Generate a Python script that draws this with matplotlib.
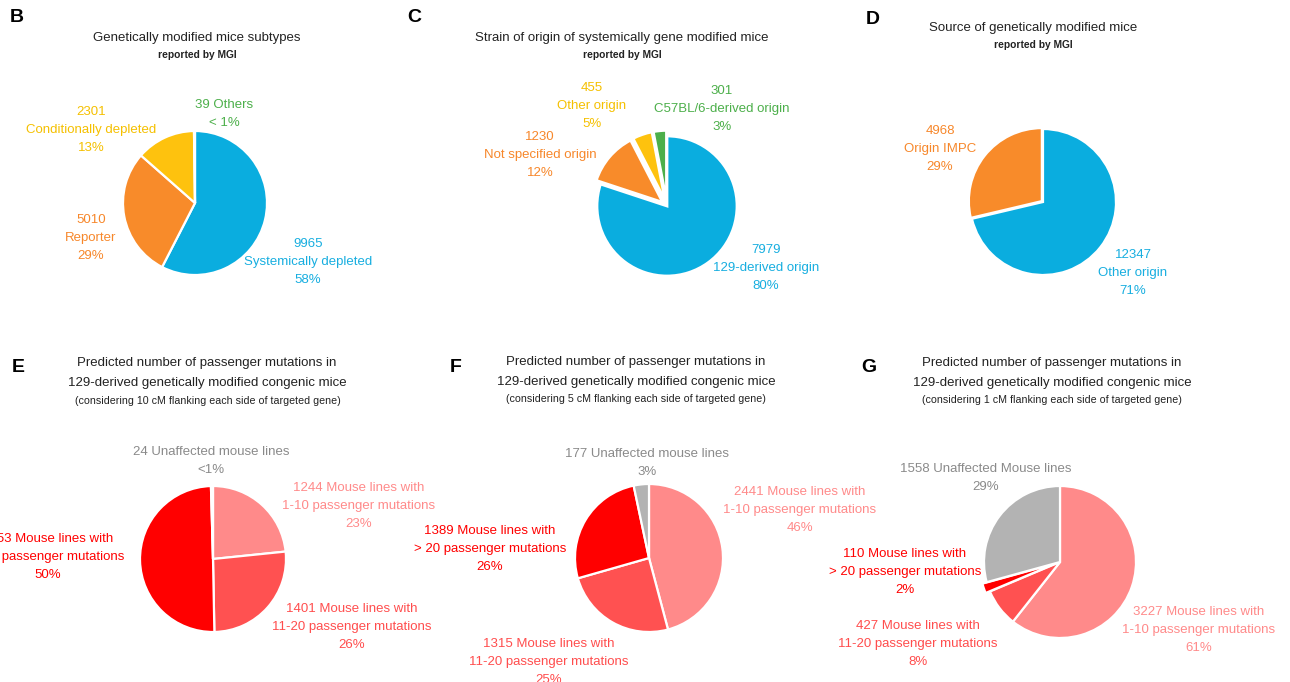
import matplotlib
matplotlib.use("Agg")
import matplotlib.pyplot as plt

W, H = 1290, 682
plt.rcParams['font.family'] = ['Liberation Sans', 'DejaVu Sans']

# ---------------- data ----------------
b_names = ["Systemically depleted", "Reporter", "Conditionally depleted", "Others"]
b_values = [9965, 5010, 2301, 39]
b_pcts = ["58%", "29%", "13%", "< 1%"]

c_names = ["129-derived origin", "Not specified origin", "Other origin", "C57BL/6-derived origin"]
c_values = [7979, 1230, 455, 301]
c_pcts = ["80%", "12%", "5%", "3%"]

d_names = ["Other origin", "Origin IMPC"]
d_values = [12347, 4968]
d_pcts = ["71%", "29%"]

e_names = ["1-10 passenger mutations", "11-20 passenger mutations", "> 20 passenger mutations", "Unaffected mouse lines"]
e_values = [1244, 1401, 2653, 24]
e_pcts = ["23%", "26%", "50%", "<1%"]

f_names = ["1-10 passenger mutations", "11-20 passenger mutations", "> 20 passenger mutations", "Unaffected mouse lines"]
f_values = [2441, 1315, 1389, 177]
f_pcts = ["46%", "25%", "26%", "3%"]

g_names = ["1-10 passenger mutations", "11-20 passenger mutations", "> 20 passenger mutations", "Unaffected Mouse lines"]
g_values = [3227, 427, 110, 1558]
g_pcts = ["61%", "8%", "2%", "29%"]

# ---------------- styles ----------------
BLUE, ORANGE, YELLOW, GREEN = "#0aaddf", "#f88b2a", "#fec20e", "#4caf4a"
PINK, MRED, RED, GRAY = "#ff8a8a", "#ff5151", "#ff0000", "#b3b3b3"
T_BLUE, T_ORANGE, T_YELLOW, T_GREEN = "#17aee0", "#f7872a", "#f5c000", "#4caf4a"
T_PINK, T_MRED, T_RED, T_GRAY = "#ff8a8a", "#ff4d4d", "#ff0000", "#8a8a8a"

fig = plt.figure(figsize=(W / 100, H / 100), dpi=100)
fig.patch.set_facecolor("white")

LBL = 9.5
TTL = 9.5
SUB = 7.4
SUB3 = 7.7
LS = 1.65


def ftext(x, y, s, size=LBL, color="black", weight="normal", ha="center", ls=LS, **kw):
    fig.text(x / W, 1 - y / H, s, fontsize=size, color=color, weight=weight,
             ha=ha, va="center", linespacing=ls, **kw)


def pie(cx, cy, r, values, colors, explode=None, lw=1.6):
    ax = fig.add_axes([(cx - r) / W, 1 - (cy + r) / H, 2 * r / W, 2 * r / H])
    wedges, _ = ax.pie(values, colors=colors, startangle=90, counterclock=False,
                       explode=explode, radius=1,
                       wedgeprops=dict(edgecolor="white", linewidth=lw))
    for w in wedges:
        w.set_clip_on(False)
    ax.set_xlim(-1, 1)
    ax.set_ylim(-1, 1)
    ax.set_aspect("equal")
    ax.axis("off")
    return ax


# panel letters
for L, x, y in [("B", 10, 18), ("C", 407, 18), ("D", 866, 20),
                ("E", 12, 368), ("F", 450, 367), ("G", 861, 368)]:
    fig.text(x / W, 1 - y / H, L, fontsize=14, weight="bold", ha="left", va="center")

# ---------------- B ----------------
ftext(197, 38, "Genetically modified mice subtypes", size=TTL, color="#222222")
ftext(197, 55, "reported by MGI", size=SUB, color="#222222", weight="bold")
pie(195, 203, 72, b_values, [BLUE, ORANGE, YELLOW, GREEN])
ftext(308, 262, f"{b_values[0]}\n{b_names[0]}\n{b_pcts[0]}", color=T_BLUE)
ftext(91, 130, f"{b_values[2]}\n{b_names[2]}\n{b_pcts[2]}", color=T_YELLOW)
ftext(91, 238, f"{b_values[1]}\n{b_names[1]}\n{b_pcts[1]}", color=T_ORANGE)
ftext(224, 114, f"{b_values[3]} {b_names[3]}\n{b_pcts[3]}", color=T_GREEN)

# ---------------- C ----------------
ftext(622, 38, "Strain of origin of systemically gene modified mice", size=TTL, color="#222222")
ftext(622, 55, "reported by MGI", size=SUB, color="#222222", weight="bold")
pie(667, 206, 70, c_values, [BLUE, ORANGE, YELLOW, GREEN], explode=[0, 0.08, 0.08, 0.08], lw=2)
ftext(766, 268, f"{c_values[0]}\n{c_names[0]}\n{c_pcts[0]}", color=T_BLUE)
ftext(540, 155, f"{c_values[1]}\n{c_names[1]}\n{c_pcts[1]}", color=T_ORANGE)
ftext(592, 106, f"{c_values[2]}\n{c_names[2]}\n{c_pcts[2]}", color=T_YELLOW)
ftext(722, 109, f"{c_values[3]}\n{c_names[3]}\n{c_pcts[3]}", color=T_GREEN)

# ---------------- D ----------------
ftext(1033, 28, "Source of genetically modified mice", size=TTL, color="#222222")
ftext(1033, 45, "reported by MGI", size=SUB, color="#222222", weight="bold")
pie(1043, 202, 73, d_values, [BLUE, ORANGE], explode=[0, 0.02])
ftext(1133, 273, f"{d_values[0]}\n{d_names[0]}\n{d_pcts[0]}", color=T_BLUE)
ftext(940, 149, f"{d_values[1]}\n{d_names[1]}\n{d_pcts[1]}", color=T_ORANGE)

# ---------------- E / F / G ----------------
t1 = "Predicted number of passenger mutations in"
t2 = "129-derived genetically modified congenic mice"


def sub3(cm):
    return f"(considering {cm} cM flanking each side of targeted gene)"


def mlabel(v, n):
    return f"{v} Mouse lines with\n{n}"


# E
ftext(207, 363, t1, size=TTL, color="#222222")
ftext(207, 383, t2, size=TTL, color="#222222")
ftext(208, 401, sub3(10), size=SUB3, color="#222222")
pie(213, 559, 73, e_values, [PINK, MRED, RED, GRAY])
ftext(359, 506, f"{mlabel(e_values[0], e_names[0])}\n{e_pcts[0]}", color=T_PINK)
ftext(352, 627, f"{mlabel(e_values[1], e_names[1])}\n{e_pcts[1]}", color=T_MRED)
ftext(48, 557, f"{mlabel(e_values[2], e_names[2])}\n{e_pcts[2]}", color=T_RED)
ftext(211, 461, f"{e_values[3]} {e_names[3]}\n{e_pcts[3]}", color=T_GRAY)

# F
ftext(636, 362, t1, size=TTL, color="#222222")
ftext(636, 382, t2, size=TTL, color="#222222")
ftext(636, 399, sub3(5), size=SUB3, color="#222222")
pie(649, 558, 74, f_values, [PINK, MRED, RED, GRAY])
ftext(800, 510, f"{mlabel(f_values[0], f_names[0])}\n{f_pcts[0]}", color=T_PINK)
ftext(549, 662, f"{mlabel(f_values[1], f_names[1])}\n{f_pcts[1]}", color=T_MRED)
ftext(490, 549, f"{mlabel(f_values[2], f_names[2])}\n{f_pcts[2]}", color=T_RED)
ftext(647, 463, f"{f_values[3]} {f_names[3]}\n{f_pcts[3]}", color=T_GRAY)

# G
ftext(1052, 363, t1, size=TTL, color="#222222")
ftext(1052, 383, t2, size=TTL, color="#222222")
ftext(1052, 400, sub3(1), size=SUB3, color="#222222")
pie(1060, 562, 76, g_values, [PINK, MRED, RED, GRAY], explode=[0, 0, 0.06, 0])
ftext(1199, 630, f"{mlabel(g_values[0], g_names[0])}\n{g_pcts[0]}", color=T_PINK)
ftext(918, 644, f"{mlabel(g_values[1], g_names[1])}\n{g_pcts[1]}", color=T_MRED)
ftext(905, 572, f"{mlabel(g_values[2], g_names[2])}\n{g_pcts[2]}", color=T_RED)
ftext(986, 478, f"{g_values[3]} {g_names[3]}\n{g_pcts[3]}", color=T_GRAY)

fig.savefig("out.png", dpi=100, facecolor="white")
